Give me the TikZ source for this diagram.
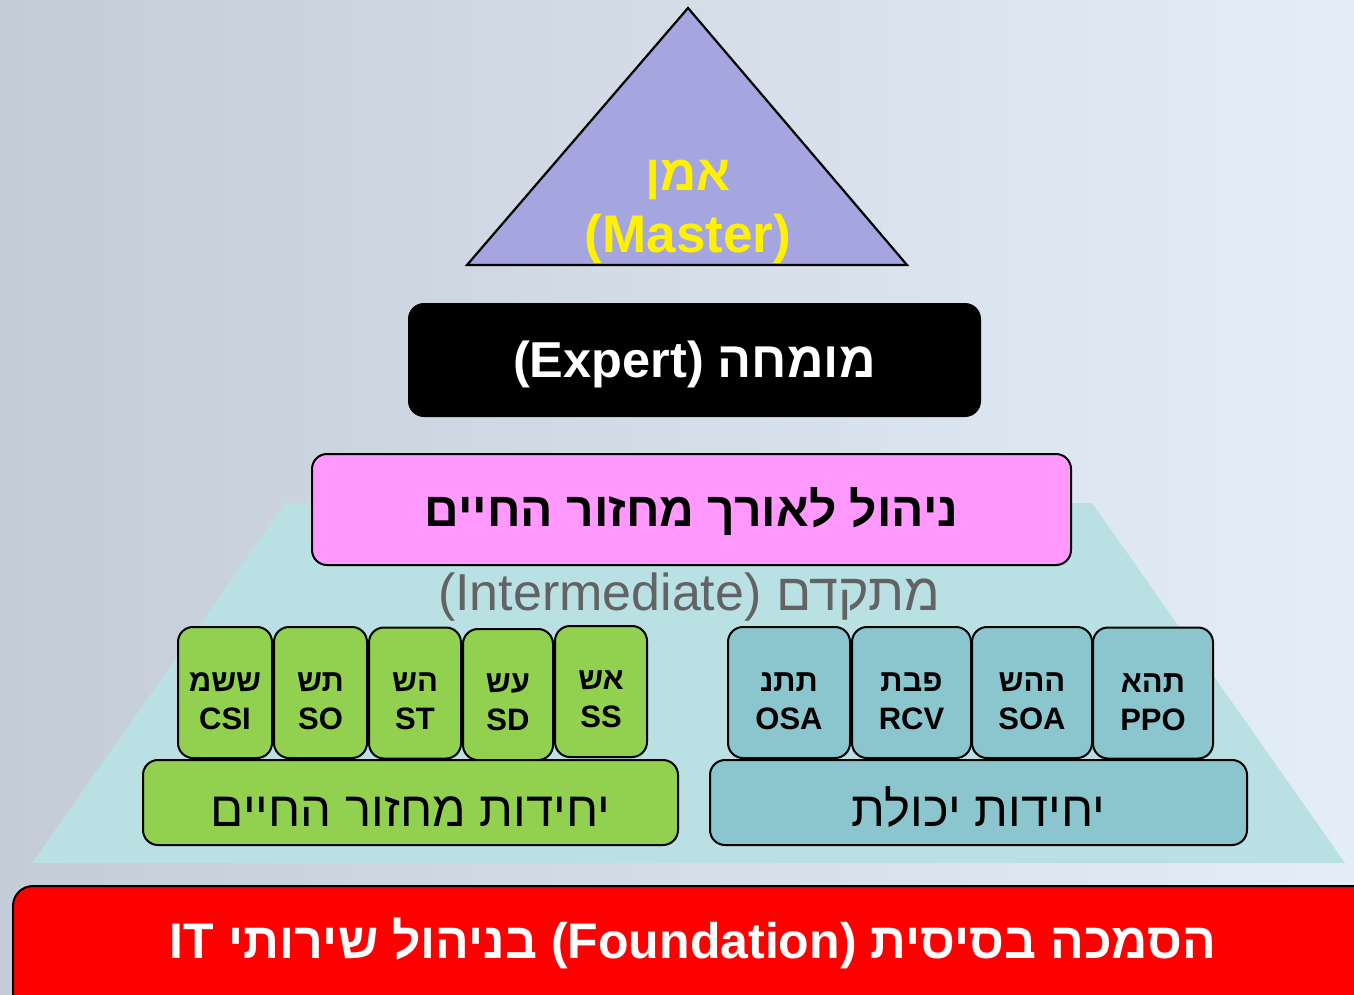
\documentclass[tikz,border=0pt]{standalone}
\usepackage{fontspec}
\setmainfont{Liberation Sans}
\newfontfamily\heb[Script=Hebrew]{Liberation Sans}
\TeXXeTstate=1
\definecolor{bgl}{HTML}{C4CCD7}
\definecolor{bgr}{HTML}{E4EEF8}
\definecolor{trapc}{HTML}{B9E0E3}
\definecolor{lav}{HTML}{A5A5E0}
\definecolor{pinkc}{HTML}{FF99FF}
\definecolor{greenc}{HTML}{92D050}
\definecolor{tealc}{HTML}{8BC6CE}
\definecolor{grayt}{HTML}{636363}
\tikzset{
  box/.style={draw=black, line width=2pt, rounded corners=15pt, inner sep=0pt},
  gbox/.style={box, fill=greenc, minimum height=131pt},
  tbox/.style={box, fill=tealc, minimum height=131pt},
  stext/.style={inner sep=0pt, align=center, font=\heb\bfseries\fontsize{31}{38}\selectfont},
  bigtext/.style={inner sep=0pt, anchor=base},
}
\begin{document}
\begin{tikzpicture}[x=1pt,y=-1pt]
\useasboundingbox (0,0) rectangle (1354,994);
\begin{scope}
\clip (0,0) rectangle (1354,994);
\shade[left color=bgl, right color=bgr] (0,0) rectangle (1354,994);
% lower trapezoid
\fill[trapc] (285,503) -- (1092,503) -- (1345,863) -- (32,863) -- cycle;
% master triangle
\draw[fill=lav, line width=2.2pt, line join=miter] (688,8) -- (907,265) -- (467,265) -- cycle;
\node[bigtext, text=yellow, font=\heb\bfseries\fontsize{50}{60}\selectfont] (masterh) at (688,190) {\beginR אמן\endR};
\node[bigtext, text=yellow, font=\heb\bfseries\fontsize{53}{60}\selectfont] (masterl) at (688,252) {(Master)};
% expert
\node[box, fill=black, minimum width=571pt, minimum height=112pt] (expert) at (694.5,360) {};
\node[bigtext, text=white, font=\heb\bfseries\fontsize{50.5}{60}\selectfont] (expertt) at (694.5,377) {\beginR מומחה \beginL(Expert)\endL\endR};
% lifecycle management
\node[box, fill=pinkc, minimum width=759pt, minimum height=111pt] (life) at (691.5,509.5) {};
\node[bigtext, font=\heb\bfseries\fontsize{48}{60}\selectfont] (lifet) at (691.5,526) {\beginR ניהול לאורך מחזור החיים\endR};
% intermediate
\node[bigtext, text=grayt, font=\heb\fontsize{52}{60}\selectfont] (inter) at (689,610) {\beginR מתקדם \beginL(Intermediate)\endL\endR};
% green small boxes
\node[gbox, minimum width=94pt] (g1) at (225,692.5) {};
\node[gbox, minimum width=93pt] (g2) at (320.5,692.5) {};
\node[gbox, minimum width=92pt] (g3) at (415,693) {};
\node[gbox, minimum width=90pt] (g4) at (508,694.5) {};
\node[gbox, minimum width=92pt] (g5) at (601,691.5) {};
\node[stext] (g1t) at (225,701) {\beginR ששמ\endR\\CSI};
\node[stext] (g2t) at (320.5,701) {\beginR תש\endR\\SO};
\node[stext] (g3t) at (415,701) {\beginR הש\endR\\ST};
\node[stext] (g4t) at (508,702) {\beginR עש\endR\\SD};
\node[stext] (g5t) at (601,699) {\beginR אש\endR\\SS};
% teal small boxes
\node[tbox, minimum width=122pt] (t1) at (789,692.5) {};
\node[tbox, minimum width=119pt] (t2) at (911.5,692.5) {};
\node[tbox, minimum width=120pt] (t3) at (1032,692.5) {};
\node[tbox, minimum width=120pt] (t4) at (1153,693) {};
\node[stext] (t1t) at (789,701) {\beginR תתנ\endR\\OSA};
\node[stext] (t2t) at (911.5,701) {\beginR פבת\endR\\RCV};
\node[stext] (t3t) at (1032,701) {\beginR ההש\endR\\SOA};
\node[stext] (t4t) at (1153,702) {\beginR תהא\endR\\PPO};
% unit bars
\node[box, fill=greenc, minimum width=535pt, minimum height=85pt] (gbar) at (410.5,802.5) {};
\node[bigtext, font=\heb\fontsize{49}{56}\selectfont] (gbart) at (410.5,826) {\beginR יחידות מחזור החיים\endR};
\node[box, fill=tealc, minimum width=537pt, minimum height=85pt] (tbar) at (978.5,802.5) {};
\node[bigtext, font=\heb\fontsize{49}{56}\selectfont] (tbart) at (978.5,826) {\beginR יחידות יכולת\endR};
% foundation
\node[box, fill=red, rounded corners=20pt, minimum width=1380pt, minimum height=130pt] (found) at (703,951) {};
\node[bigtext, text=white, font=\heb\bfseries\fontsize{50}{60}\selectfont] (foundt) at (693,958) {\beginR הסמכה בסיסית \beginL(Foundation)\endL{} בניהול שירותי \beginL IT\endL\endR};
\end{scope}
\end{tikzpicture}
\end{document}
